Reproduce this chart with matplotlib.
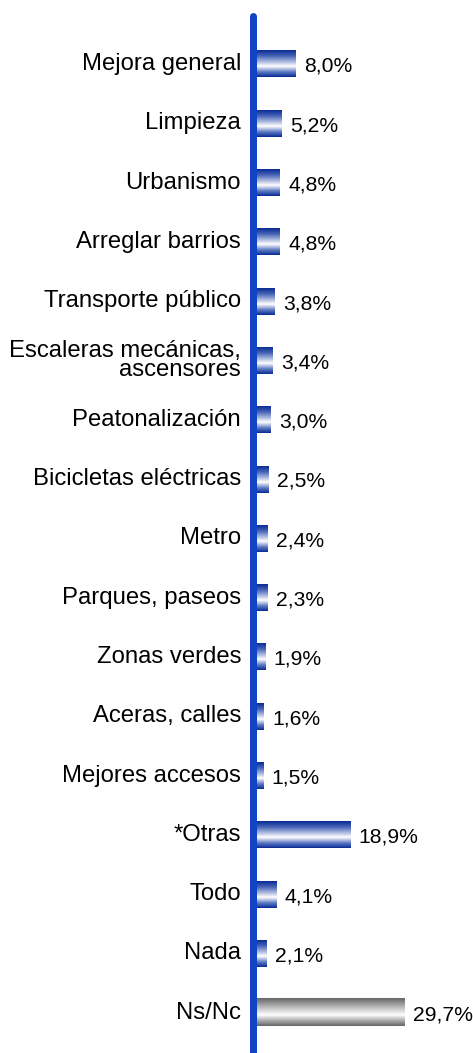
import numpy as np
import matplotlib
matplotlib.use("Agg")
import matplotlib.pyplot as plt
from matplotlib.colors import LinearSegmentedColormap

categories = ["Mejora general", "Limpieza", "Urbanismo", "Arreglar barrios",
              "Transporte público", "Escaleras mecánicas,\nascensores",
              "Peatonalización", "Bicicletas eléctricas", "Metro",
              "Parques, paseos", "Zonas verdes", "Aceras, calles",
              "Mejores accesos", "*Otras", "Todo", "Nada", "Ns/Nc"]
values = [8.0, 5.2, 4.8, 4.8, 3.8, 3.4, 3.0, 2.5, 2.4, 2.3, 1.9, 1.6, 1.5,
          18.9, 4.1, 2.1, 29.7]
value_labels = ["8,0%", "5,2%", "4,8%", "4,8%", "3,8%", "3,4%", "3,0%", "2,5%",
                "2,4%", "2,3%", "1,9%", "1,6%", "1,5%", "18,9%", "4,1%", "2,1%",
                "29,7%"]
gray_flags = [False] * 16 + [True]

plt.rcParams['font.family'] = ['Liberation Sans', 'DejaVu Sans']

W, H = 473, 1053
fig = plt.figure(figsize=(W / 100, H / 100), dpi=100)
fig.patch.set_facecolor("white")

x0_px = 256
px_per_unit = 5.0
row0 = 64.0
row_step = 59.3
top_px = 13
ax = fig.add_axes([x0_px / W, 0, 1 - x0_px / W, 1 - top_px / H])
ax.set_axis_off()

blue_cmap = LinearSegmentedColormap.from_list(
    "b", [(0, "#0a2c94"), (0.22, "#4a66b8"), (0.6, "#ffffff"),
          (0.82, "#5c78c2"), (1, "#0a2c94")])
gray_cmap = LinearSegmentedColormap.from_list(
    "g", [(0, "#666666"), (0.22, "#a0a0a0"), (0.6, "#ffffff"),
          (0.82, "#a8a8a8"), (1, "#666666")])
grad = np.linspace(0, 1, 64).reshape(-1, 1)

bar_h = 27 / row_step
ypos = np.arange(len(categories))
for y, v, g, cat, lab in zip(ypos, values, gray_flags, categories, value_labels):
    cmap = gray_cmap if g else blue_cmap
    ax.imshow(grad, cmap=cmap, aspect="auto", interpolation="bilinear",
              extent=[0, v, y + bar_h / 2, y - bar_h / 2], origin="upper")
    ax.text(v + 8 / px_per_unit, y + 0.04, lab, fontsize=15.2, va="center",
            ha="left", color="black")
    ax.text(-15 / px_per_unit, y, cat, fontsize=17.2, va="center", ha="right",
            color="black", linespacing=0.82, clip_on=False)

xmax = (W - x0_px) / px_per_unit
ax.set_xlim(0, xmax)
ytop = (top_px - row0) / row_step
ybot = (H - row0) / row_step
ax.set_ylim(ybot, ytop)

# vertical axis line
ax.plot([-3 / px_per_unit, -3 / px_per_unit], [ytop + 3.5 / row_step, ybot + 1],
        color="#1243c4", lw=7 * 0.72, solid_capstyle="round", clip_on=False,
        zorder=5)

fig.savefig("out.png", dpi=100, facecolor="white")
